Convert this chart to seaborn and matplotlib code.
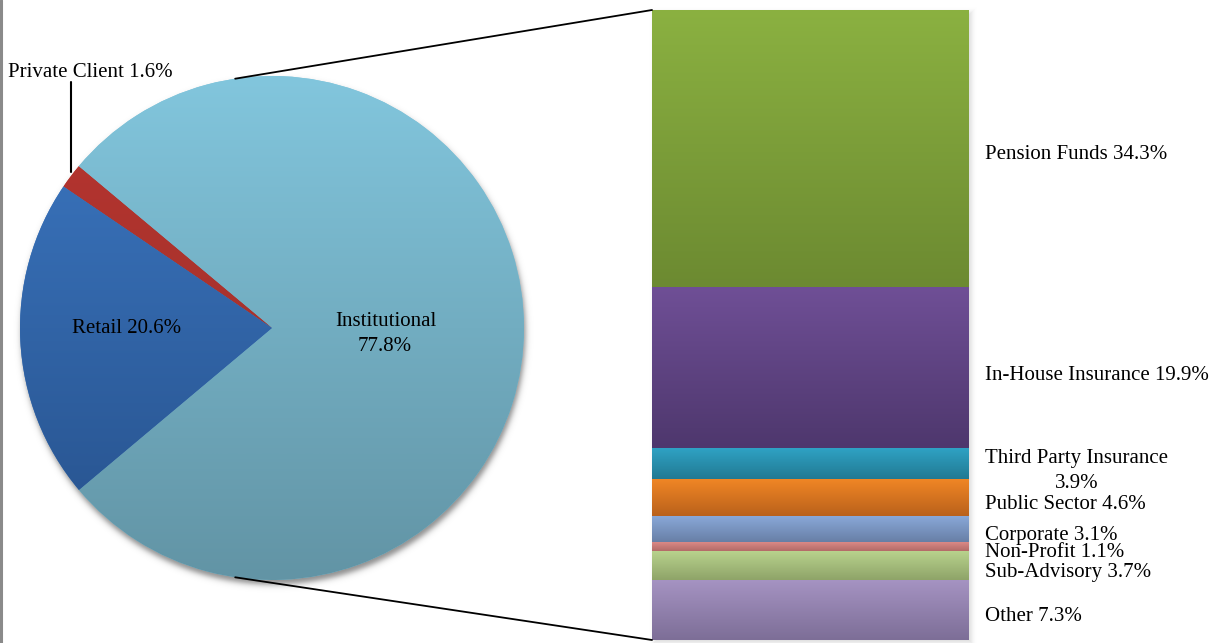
import numpy as np
import matplotlib
matplotlib.use("Agg")
import matplotlib.pyplot as plt
from matplotlib.colors import to_rgb
from matplotlib.patches import ConnectionPatch
from matplotlib.lines import Line2D
import seaborn as sns

# ---- data -------------------------------------------------------------
pie_labels = ["Institutional", "Private Client", "Retail"]
pie_values = [77.8, 1.6, 20.6]
pie_top = ["#82C6DD", "#B8352F", "#3C78C3"]
pie_bottom = ["#6294A5", "#97302B", "#26508A"]

bar_labels = ["Pension Funds", "In-House Insurance", "Third Party Insurance",
              "Public Sector", "Corporate", "Non-Profit", "Sub-Advisory", "Other"]
bar_values = [34.3, 19.9, 3.9, 4.6, 3.1, 1.1, 3.7, 7.3]
bar_top = ["#8BB141", "#6F4F96", "#2FA2C4", "#F08625", "#89A8D8",
           "#DB8986", "#B8D28D", "#A593C2"]
bar_bottom = ["#6C8A31", "#4E376D", "#217891", "#B8601B", "#687FA6",
              "#B36B68", "#8DA267", "#7D6E97"]

# ---- figure -----------------------------------------------------------
sns.set_theme(style="white")
plt.rcParams["font.family"] = ["Liberation Serif", "DejaVu Serif"]
plt.rcParams["text.color"] = "black"
FS = 15

W, H = 1223, 643
fig = plt.figure(figsize=(W / 100, H / 100), dpi=100)
fig.patch.set_facecolor("white")

# main axes in pixel units (y measured upwards)
ax = fig.add_axes([0, 0, 1, 1])


def Y(y):
    return H - y


def vgrad(c_top, c_bot, n=256):
    t = np.linspace(0, 1, n)[:, None]
    a = np.array(to_rgb(c_top))
    b = np.array(to_rgb(c_bot))
    return (a * (1 - t) + b * t)[:, None, :]


def soft_shadow(target, mask_fn, extent, alpha=0.35, zorder=0):
    x0, x1, y0, y1 = extent
    xs = np.arange(x0, x1)
    ys = np.arange(y0, y1)
    gx, gy = np.meshgrid(xs, ys)
    a = alpha * mask_fn(gx, gy)
    img = np.zeros(gx.shape + (4,))
    img[..., 3] = a
    target.imshow(img, extent=(x0, x1, Y(y1), Y(y0)), origin="upper",
                  zorder=zorder, interpolation="bilinear")


# pie geometry
cx, cy, R = 272, 328, 252

# soft drop shadow under the pie
soft_shadow(ax,
            lambda gx, gy: 1.0 / (1.0 + np.exp((np.hypot(gx - cx - 1, gy - cy - 4) - R) / 1.8)),
            (cx - R - 20, cx + R + 20, cy - R - 20, cy + R + 24), alpha=0.45, zorder=0)

wedges, _ = ax.pie(pie_values, startangle=-140, counterclock=True,
                   center=(cx, Y(cy)), radius=R, colors=pie_top,
                   wedgeprops=dict(linewidth=0), frame=False)
for w, ct, cb in zip(wedges, pie_top, pie_bottom):
    w.set_zorder(1)
    im = ax.imshow(vgrad(ct, cb), extent=(cx - R, cx + R, Y(cy + R), Y(cy - R)),
                   origin="upper", aspect="auto", zorder=2, interpolation="bilinear")
    im.set_clip_path(w)

# soft shadow to the right of the bar
bx0, bx1, by0, by1 = 652, 969, 10, 640
soft_shadow(ax,
            lambda gx, gy: 1.0 / (1.0 + np.exp((np.maximum(np.abs(gx - (bx0 + bx1) / 2 - 2) - (bx1 - bx0) / 2,
                                                           np.abs(gy - (by0 + by1) / 2 - 2) - (by1 - by0) / 2)) / 1.6)),
            (bx0 - 10, bx1 + 14, by0 - 10, min(H, by1 + 14)), alpha=0.15, zorder=0)

ax.set_xlim(0, W)
ax.set_ylim(0, H)
ax.set_aspect("auto")
ax.axis("off")

# ---- stacked bar ------------------------------------------------------
bax = fig.add_axes([bx0 / W, (H - by1) / H, (bx1 - bx0) / W, (by1 - by0) / H])
total = sum(bar_values)
bottoms = np.concatenate([[0], np.cumsum(bar_values)[:-1]])
bars = bax.bar(np.zeros(len(bar_values)), bar_values, bottom=bottoms, width=1,
               color=bar_top, linewidth=0, zorder=1)
for b0, v, ct, cb in zip(bottoms, bar_values, bar_top, bar_bottom):
    bax.imshow(vgrad(ct, cb), extent=(-0.5, 0.5, b0 + v, b0), origin="upper",
               aspect="auto", zorder=2, interpolation="bilinear")
bax.set_xlim(-0.5, 0.5)
bax.set_ylim(total, 0)
bax.set_aspect("auto")
bax.axis("off")

# ---- connector lines --------------------------------------------------
ang = np.deg2rad(98.4)
for sgn, ycorner in [(1, 0), (-1, total)]:
    p = (cx + R * np.cos(ang), Y(cy) + sgn * R * np.sin(ang))
    con = ConnectionPatch(xyA=p, coordsA=ax.transData,
                          xyB=(-0.5, ycorner), coordsB=bax.transData,
                          color="black", linewidth=1.3, zorder=5)
    fig.add_artist(con)

# ---- labels -----------------------------------------------------------
def pct(v):
    return f"{v:.1f}%"

txt = dict(fontsize=FS, color="black", zorder=6)
ax.text(127, Y(333), f"{pie_labels[2]} {pct(pie_values[2])}", ha="center",
        va="baseline", **txt)
ax.text(386, Y(326), pie_labels[0], ha="center", va="baseline", **txt)
ax.text(385, Y(351), pct(pie_values[0]), ha="center", va="baseline", **txt)
ax.text(8, Y(77), f"{pie_labels[1]} {pct(pie_values[1])}", ha="left",
        va="baseline", **txt)
ax.plot([71, 71], [Y(82), Y(172)], color="black", linewidth=1.5, zorder=6)

label_base = [159, 380, 463, 509, 540, 557, 577, 621]
for lab, v, yb in zip(bar_labels, bar_values, label_base):
    if lab == "Third Party Insurance":
        ax.text(985, Y(yb), lab, ha="left", va="baseline", **txt)
        ax.text(1077, Y(yb + 25), pct(v), ha="center", va="baseline", **txt)
    else:
        ax.text(985, Y(yb), f"{lab} {pct(v)}", ha="left", va="baseline", **txt)

# left frame edge
fig.add_artist(Line2D([1.2 / W, 1.2 / W], [0, 1], color="#8A8A8A", linewidth=2.2,
                      transform=fig.transFigure))

fig.savefig("out.png", dpi=100, facecolor="white")
